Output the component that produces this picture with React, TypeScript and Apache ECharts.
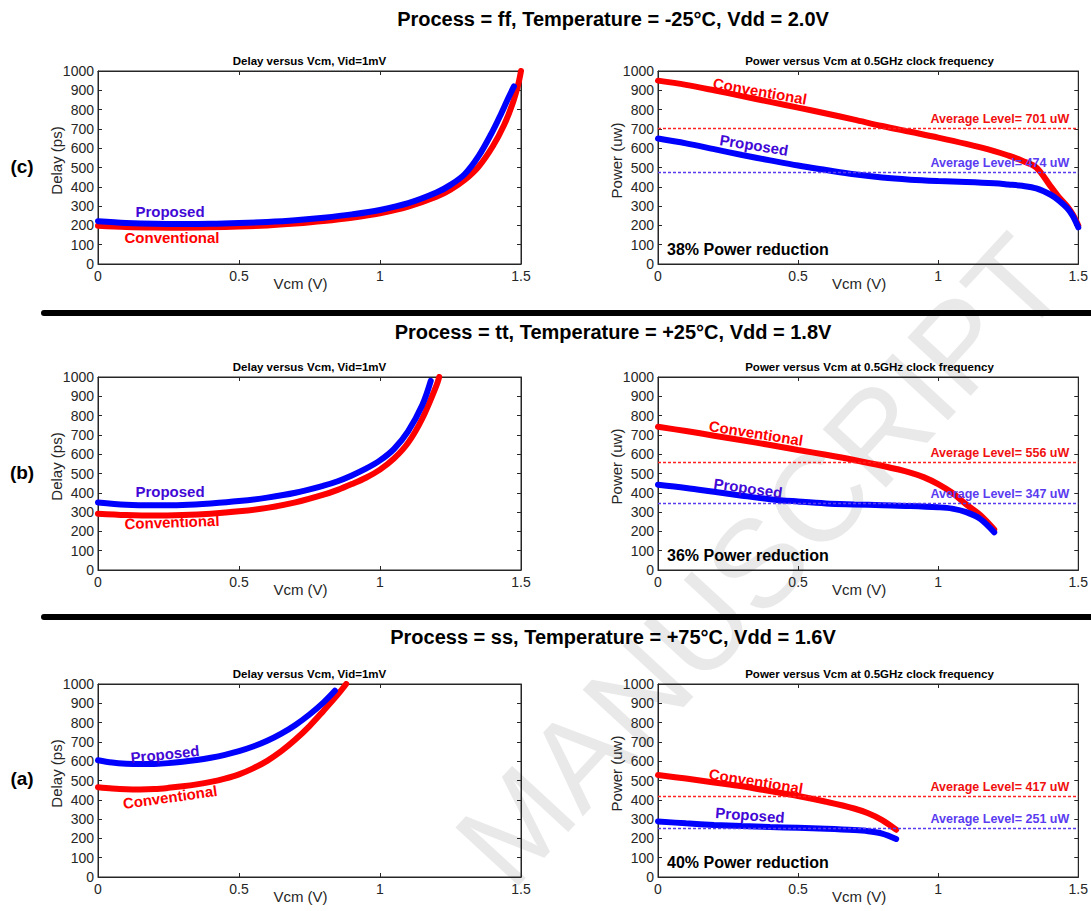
import React, { useEffect, useRef } from "react";
import * as echarts from "echarts";

// ---------------- DATA ----------------
// Process ff (c) – delay
const ffDelayPropV = [0, 0.1, 0.2, 0.3, 0.4, 0.5, 0.6, 0.7, 0.8, 0.9, 1.0, 1.1, 1.2, 1.25, 1.3, 1.35, 1.4, 1.43, 1.455, 1.475];
const ffDelayProp = [222, 213, 208, 207, 208, 212, 218, 227, 240, 257, 280, 315, 370, 410, 465, 560, 690, 780, 860, 920];
const ffDelayConvV = [0, 0.1, 0.2, 0.3, 0.4, 0.5, 0.6, 0.7, 0.8, 0.9, 1.0, 1.1, 1.2, 1.25, 1.3, 1.35, 1.4, 1.44, 1.47, 1.49, 1.5];
const ffDelayConv = [198, 192, 189, 188, 190, 194, 200, 210, 223, 240, 263, 297, 348, 385, 435, 505, 610, 720, 830, 930, 1000];
// Process ff (c) – power
const ffPowV = [0, 0.1, 0.2, 0.3, 0.4, 0.5, 0.6, 0.7, 0.8, 0.9, 1.0, 1.1, 1.2, 1.25, 1.3, 1.35, 1.4, 1.43, 1.46, 1.48, 1.5];
const ffPowConv = [950, 928, 900, 870, 840, 810, 780, 748, 715, 685, 655, 622, 585, 562, 535, 500, 405, 348, 300, 258, 200];
const ffPowProp = [650, 625, 595, 565, 537, 510, 487, 465, 448, 437, 430, 425, 418, 412, 405, 392, 360, 330, 290, 250, 190];
const ffAvg = [701, 474];

// Process tt (b) – delay
const ttDelayPropV = [0, 0.1, 0.2, 0.3, 0.4, 0.5, 0.6, 0.7, 0.8, 0.85, 0.9, 0.95, 1.0, 1.05, 1.1, 1.15, 1.18];
const ttDelayProp = [350, 338, 335, 337, 345, 357, 375, 400, 437, 460, 490, 525, 568, 628, 720, 855, 980];
const ttDelayConvV = [0, 0.1, 0.2, 0.3, 0.4, 0.5, 0.6, 0.7, 0.8, 0.85, 0.9, 0.95, 1.0, 1.05, 1.1, 1.15, 1.2, 1.21];
const ttDelayConv = [292, 285, 282, 285, 292, 304, 322, 350, 390, 415, 445, 478, 520, 578, 660, 785, 955, 1000];
// Process tt (b) – power
const ttPowConvV = [0, 0.1, 0.2, 0.3, 0.4, 0.5, 0.6, 0.7, 0.8, 0.9, 0.95, 1.0, 1.05, 1.1, 1.15, 1.2];
const ttPowConv = [742, 720, 696, 672, 648, 622, 597, 570, 540, 505, 480, 445, 400, 340, 285, 210];
const ttPowPropV = [0, 0.1, 0.2, 0.3, 0.4, 0.5, 0.6, 0.7, 0.8, 0.9, 1.0, 1.05, 1.1, 1.15, 1.2];
const ttPowProp = [442, 425, 405, 385, 367, 355, 345, 340, 336, 332, 325, 318, 300, 265, 195];
const ttAvg = [556, 347];

// Process ss (a) – delay
const ssDelayPropV = [0, 0.05, 0.1, 0.15, 0.2, 0.25, 0.3, 0.35, 0.4, 0.45, 0.5, 0.55, 0.6, 0.65, 0.7, 0.75, 0.8, 0.84];
const ssDelayProp = [605, 593, 587, 585, 586, 590, 597, 606, 618, 633, 652, 676, 706, 743, 788, 842, 905, 965];
const ssDelayConvV = [0, 0.05, 0.1, 0.15, 0.2, 0.25, 0.3, 0.35, 0.4, 0.45, 0.5, 0.55, 0.6, 0.65, 0.7, 0.75, 0.8, 0.85, 0.88];
const ssDelayConv = [465, 459, 455, 454, 456, 462, 470, 480, 493, 510, 532, 563, 602, 652, 712, 782, 862, 945, 1000];
// Process ss (a) – power
const ssPowV = [0, 0.1, 0.2, 0.3, 0.4, 0.5, 0.6, 0.7, 0.75, 0.8, 0.85];
const ssPowConv = [528, 510, 490, 470, 445, 420, 390, 355, 330, 295, 245];
const ssPowProp = [288, 278, 270, 264, 259, 255, 250, 243, 237, 225, 197];
const ssAvg = [417, 251];

const rowTitles = [
  "Process = ff, Temperature = -25°C, Vdd = 2.0V",
  "Process = tt, Temperature = +25°C, Vdd = 1.8V",
  "Process = ss, Temperature = +75°C, Vdd = 1.6V",
];
const rowTags = ["(c)", "(b)", "(a)"];
const reductions = ["38% Power reduction", "36% Power reduction", "40% Power reduction"];
const delayTitle = "Delay versus Vcm, Vid=1mV";
const powerTitle = "Power versus Vcm at 0.5GHz clock frequency";
const watermark = "MANUSCRIPT";

// ---------------- STYLE / LAYOUT ----------------
const FONT = "'Liberation Sans', Arial, Helvetica, sans-serif";
const AX = "#262626";
const RED = "#ff0000";
const BLUE = "#0000ff";
const PROP_TXT = "#4208d6";
const AVG_RED = "#ff2020";
const AVG_BLUE = "#5a3cf0";
const ROW_TOPS = [71, 377, 684];
const PLOT_H = 193;
const PLOT_W = 423;
const DELAY_LEFT = 98;
const POWER_LEFT = 658;
const deg = (d: number) => (d * Math.PI) / 180;

const zip = (xs: number[], ys: number[]) => xs.map((x, i) => [x, ys[i]]);

type PanelData = {
  kind: "delay" | "power";
  row: number;
  conv: number[][];
  prop: number[][];
  avg?: number[];
};

const panels: PanelData[] = [
  { kind: "delay", row: 0, conv: zip(ffDelayConvV, ffDelayConv), prop: zip(ffDelayPropV, ffDelayProp) },
  { kind: "power", row: 0, conv: zip(ffPowV, ffPowConv), prop: zip(ffPowV, ffPowProp), avg: ffAvg },
  { kind: "delay", row: 1, conv: zip(ttDelayConvV, ttDelayConv), prop: zip(ttDelayPropV, ttDelayProp) },
  { kind: "power", row: 1, conv: zip(ttPowConvV, ttPowConv), prop: zip(ttPowPropV, ttPowProp), avg: ttAvg },
  { kind: "delay", row: 2, conv: zip(ssDelayConvV, ssDelayConv), prop: zip(ssDelayPropV, ssDelayProp) },
  { kind: "power", row: 2, conv: zip(ssPowV, ssPowConv), prop: zip(ssPowV, ssPowProp), avg: ssAvg },
];

// curve annotation positions [x, y, rotationDeg]
const convLabelPos = [
  [172, 237, 0], [760, 91, -10],
  [172, 522, 2], [756, 433, -9],
  [170, 797, 8], [756, 781, -9],
];
const propLabelPos = [
  [170, 211, 0], [754, 145, -9],
  [170, 491, 0], [748, 488, -8],
  [165, 754, 6], [750, 815, -4],
];

function buildOption() {
  const grid: any[] = [];
  const xAxis: any[] = [];
  const yAxis: any[] = [];
  const series: any[] = [];
  const graphic: any[] = [];

  // watermark
  graphic.push({
    type: "text",
    x: 760,
    y: 560,
    rotation: deg(47.3),
    z: -10,
    silent: true,
    style: {
      text: watermark,
      font: `125px ${FONT}`,
      fill: "#e9e9e9",
      align: "center",
      verticalAlign: "middle",
    },
  });

  panels.forEach((p, i) => {
    const left = p.kind === "delay" ? DELAY_LEFT : POWER_LEFT;
    const top = ROW_TOPS[p.row];
    grid.push({
      left,
      top,
      width: PLOT_W,
      height: PLOT_H,
      show: true,
      borderColor: AX,
      borderWidth: 1,
      backgroundColor: "transparent",
    });
    const tick = { show: true, inside: true, length: 4, lineStyle: { color: AX, width: 1 } };
    const line = { show: true, onZero: false, lineStyle: { color: AX, width: 1 } };
    xAxis.push({
      type: "value",
      gridIndex: i,
      min: 0,
      max: 1.5,
      interval: 0.5,
      position: "bottom",
      axisLine: line,
      axisTick: tick,
      splitLine: { show: false },
      axisLabel: { color: AX, fontSize: 14, margin: 5, fontFamily: FONT, formatter: (v: number) => String(v) },
      name: "Vcm (V)",
      nameLocation: "middle",
      nameGap: 12,
      nameMoveOverlap: false,
      nameTextStyle: { color: AX, fontSize: 15, fontFamily: FONT, padding: [0, 18, 0, 0] },
    });
    xAxis.push({
      type: "value",
      gridIndex: i,
      min: 0,
      max: 1.5,
      interval: 0.5,
      position: "top",
      axisLine: line,
      axisTick: tick,
      splitLine: { show: false },
      axisLabel: { show: false },
    });
    yAxis.push({
      type: "value",
      gridIndex: i,
      min: 0,
      max: 1000,
      interval: 100,
      position: "left",
      axisLine: line,
      axisTick: tick,
      splitLine: { show: false },
      axisLabel: { color: AX, fontSize: 14, margin: 4, fontFamily: FONT, formatter: (v: number) => String(v) },
      name: p.kind === "delay" ? "Delay (ps)" : "Power (uw)",
      nameLocation: "middle",
      nameGap: 34,
      nameMoveOverlap: false,
      nameTextStyle: { color: AX, fontSize: 15, fontFamily: FONT, padding: [0, 0, 0, 14] },
    });
    yAxis.push({
      type: "value",
      gridIndex: i,
      min: 0,
      max: 1000,
      interval: 100,
      position: "right",
      axisLine: line,
      axisTick: tick,
      splitLine: { show: false },
      axisLabel: { show: false },
    });

    const mk = (avg: number | undefined, color: string, labelColor: string) =>
      avg === undefined
        ? undefined
        : {
            silent: true,
            symbol: ["none", "none"],
            lineStyle: { color, width: 1.3, type: [3, 2] },
            label: {
              show: true,
              position: "insideEndTop",
              formatter: `Average Level= ${avg} uW`,
              color: labelColor,
              fontSize: 12.5,
              fontWeight: "bold",
              fontFamily: FONT,
              distance: [9, 3],
            },
            data: [{ yAxis: avg }],
          };

    series.push({
      type: "line",
      name: "Conventional",
      xAxisIndex: 2 * i,
      yAxisIndex: 2 * i,
      data: p.conv,
      showSymbol: false,
      smooth: 0.35,
      lineStyle: { color: RED, width: 6, cap: "round" },
      z: 3,
      markLine: mk(p.avg ? p.avg[0] : undefined, AVG_RED, "#f01010"),
    });
    series.push({
      type: "line",
      name: "Proposed",
      xAxisIndex: 2 * i,
      yAxisIndex: 2 * i,
      data: p.prop,
      showSymbol: false,
      smooth: 0.35,
      lineStyle: { color: BLUE, width: 6, cap: "round" },
      z: 4,
      markLine: mk(p.avg ? p.avg[1] : undefined, AVG_BLUE, AVG_BLUE),
    });

    // subplot title
    graphic.push({
      type: "text",
      x: left + PLOT_W / 2,
      y: top - 10,
      style: {
        text: p.kind === "delay" ? delayTitle : powerTitle,
        font: `bold 11.5px ${FONT}`,
        fill: "#000",
        align: "center",
        verticalAlign: "middle",
      },
    });
    // curve labels
    const cl = convLabelPos[i];
    graphic.push({
      type: "text",
      x: cl[0],
      y: cl[1],
      rotation: deg(cl[2]),
      z: 10,
      style: { text: "Conventional", font: `bold 15px ${FONT}`, fill: RED, align: "center", verticalAlign: "middle" },
    });
    const pl = propLabelPos[i];
    graphic.push({
      type: "text",
      x: pl[0],
      y: pl[1],
      rotation: deg(pl[2]),
      z: 10,
      style: { text: "Proposed", font: `bold 15px ${FONT}`, fill: PROP_TXT, align: "center", verticalAlign: "middle" },
    });
    if (p.kind === "power") {
      graphic.push({
        type: "text",
        x: 667,
        y: top + PLOT_H - 15,
        z: 10,
        style: { text: reductions[p.row], font: `bold 16px ${FONT}`, fill: "#000", align: "left", verticalAlign: "middle" },
      });
    }
  });

  // row titles, tags, separators
  const titleY = [19, 332, 637];
  const tagY = [166, 472, 778];
  rowTitles.forEach((t, r) => {
    graphic.push({
      type: "text",
      x: 613,
      y: titleY[r],
      style: { text: t, font: `bold 20px ${FONT}`, fill: "#000", align: "center", verticalAlign: "middle" },
    });
    graphic.push({
      type: "text",
      x: 22,
      y: tagY[r],
      style: { text: rowTags[r], font: `bold 19px ${FONT}`, fill: "#000", align: "center", verticalAlign: "middle" },
    });
  });
  [313, 617].forEach((y) => {
    graphic.push({
      type: "line",
      shape: { x1: 44, y1: y, x2: 1095, y2: y },
      style: { stroke: "#000", lineWidth: 6, lineCap: "round" },
      z: 20,
    });
  });

  return {
    animation: false,
    backgroundColor: "#ffffff",
    textStyle: { fontFamily: FONT },
    grid,
    xAxis,
    yAxis,
    series,
    graphic,
  };
}

export default function App() {
  const ref = useRef<HTMLDivElement>(null);
  useEffect(() => {
    if (!ref.current) return;
    const chart = echarts.init(ref.current, undefined, { renderer: "svg" });
    chart.setOption(buildOption() as any);
    return () => chart.dispose();
  }, []);
  return (
    <div
      ref={ref}
      style={{ position: "fixed", left: 0, top: 0, width: 1091, height: 911, background: "#fff" }}
    />
  );
}
